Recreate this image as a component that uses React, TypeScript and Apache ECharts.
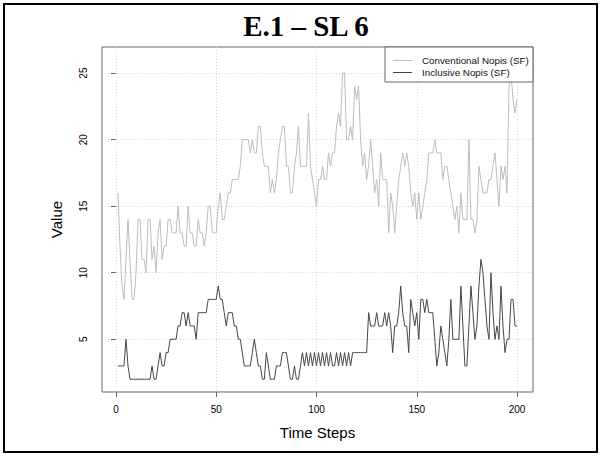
import React, { useEffect, useRef } from "react";
import * as echarts from "echarts";

const conventional = [
  16, 12, 9, 8, 11, 14, 11, 8, 8, 10,
  14, 14, 11, 11, 10, 14, 14, 11, 12, 10,
  13, 14, 11, 12, 12, 14, 14, 13, 13, 13,
  15, 13, 13, 12, 12, 15, 13, 13, 12, 12,
  14, 13, 13, 12, 13, 15, 15, 13, 13, 13,
  15, 16, 14, 14, 15, 16, 16, 17, 17, 17,
  17, 18, 20, 20, 20, 20, 19, 20, 19, 19,
  21, 21, 19, 18, 18, 18, 16, 17, 16, 17,
  19, 20, 21, 21, 18, 18, 16, 16, 18, 19,
  21, 18, 18, 18, 18, 22, 18, 17, 16, 15,
  17, 17, 18, 17, 17, 19, 18, 19, 19, 21,
  22, 21, 25, 25, 20, 20, 21, 20, 24, 23,
  24, 20, 18, 19, 17, 18, 20, 18, 16, 17,
  15, 19, 17, 17, 17, 13, 16, 15, 13, 15,
  17, 18, 19, 18, 19, 18, 16, 15, 16, 14,
  16, 14, 15, 16, 17, 19, 19, 19, 20, 19,
  19, 19, 17, 18, 18, 17, 16, 15, 14, 15,
  13, 16, 14, 14, 14, 20, 14, 14, 13, 14,
  18, 17, 16, 16, 16, 17, 17, 18, 19, 17,
  15, 18, 17, 18, 16, 24, 25, 23, 22, 23,
];

const inclusive = [
  3, 3, 3, 3, 5, 3, 2, 2, 2, 2,
  2, 2, 2, 2, 2, 2, 2, 3, 2, 2,
  3, 4, 3, 3, 4, 4, 5, 5, 5, 5,
  6, 6, 7, 7, 6, 7, 6, 6, 6, 5,
  7, 7, 7, 7, 7, 8, 8, 8, 8, 8,
  9, 8, 8, 7, 6, 7, 7, 7, 6, 6,
  5, 5, 4, 3, 3, 3, 3, 4, 5, 4,
  3, 3, 2, 2, 4, 3, 2, 2, 2, 3,
  3, 3, 4, 4, 4, 3, 2, 2, 3, 2,
  2, 3, 4, 3, 4, 3, 4, 3, 4, 3,
  4, 3, 4, 3, 4, 3, 4, 3, 3, 4,
  3, 4, 3, 4, 3, 4, 3, 4, 4, 4,
  4, 4, 4, 4, 4, 7, 6, 6, 6, 7,
  6, 6, 6, 7, 6, 7, 6, 4, 6, 6,
  7, 9, 7, 6, 6, 4, 8, 7, 6, 7,
  5, 8, 8, 7, 8, 7, 7, 7, 5, 3,
  4, 6, 5, 4, 3, 5, 8, 5, 5, 5,
  5, 9, 6, 3, 3, 6, 9, 7, 5, 6,
  9, 11, 10, 8, 6, 5, 10, 7, 5, 6,
  5, 9, 6, 4, 5, 5, 8, 8, 6, 6,
];

const xTicks = [0, 50, 100, 150, 200];
const yTicks = [5, 10, 15, 20, 25];
const seriesNames = ["Conventional Nopis (SF)", "Inclusive Nopis (SF)"];
const seriesColors = ["#c4baba", "#474747"];
const titleText = "E.1 – SL 6";
const xTitle = "Time Steps";
const yTitle = "Value";

export default function App() {
  const ref = useRef<HTMLDivElement>(null);

  useEffect(() => {
    document.body.style.margin = "0";
    const chart = echarts.init(ref.current!, null, { renderer: "svg" });
    const sans = "Liberation Sans, Arial, sans-serif";
    const toPairs = (arr: number[]) => arr.map((v, i) => [i + 1, v]);

    chart.setOption({
      animation: false,
      backgroundColor: "#ffffff",
      grid: {
        left: 102,
        right: 68,
        top: 47,
        bottom: 64,
        show: true,
        borderColor: "#666",
        borderWidth: 1,
        backgroundColor: "transparent",
      },
      xAxis: {
        type: "value",
        min: -6.96,
        max: 207.96,
        name: xTitle,
        nameLocation: "middle",
        nameGap: 33,
        nameTextStyle: { fontFamily: sans, fontSize: 15, color: "#000" },
        axisLine: { show: false },
        axisTick: {
          show: true,
          customValues: xTicks,
          length: 5,
          lineStyle: { color: "#666" },
        },
        axisLabel: {
          customValues: xTicks,
          fontFamily: sans,
          fontSize: 10,
          color: "#000",
          margin: 12,
        },
        splitLine: {
          show: true,
          lineStyle: { color: "#d6d6d6", type: [1, 2], width: 1 },
        },
      },
      yAxis: {
        type: "value",
        min: 1.04,
        max: 26.96,
        name: yTitle,
        nameLocation: "middle",
        nameGap: 38,
        nameTextStyle: { fontFamily: sans, fontSize: 15, color: "#000" },
        axisLine: { show: false },
        axisTick: {
          show: true,
          customValues: yTicks,
          length: 5,
          lineStyle: { color: "#666" },
        },
        axisLabel: {
          customValues: yTicks,
          fontFamily: sans,
          fontSize: 10,
          color: "#000",
          rotate: 90,
          margin: 14,
        },
        splitLine: {
          show: true,
          lineStyle: { color: "#d6d6d6", type: [1, 2], width: 1 },
        },
      },
      series: [
        {
          name: seriesNames[0],
          type: "line",
          data: toPairs(conventional),
          symbol: "none",
          lineStyle: { color: seriesColors[0], width: 1 },
          silent: true,
        },
        {
          name: seriesNames[1],
          type: "line",
          data: toPairs(inclusive),
          symbol: "none",
          lineStyle: { color: seriesColors[1], width: 1 },
          silent: true,
        },
      ],
      graphic: [
        {
          type: "rect",
          shape: { x: 4, y: 4, width: 593, height: 448 },
          style: { fill: "none", stroke: "#000", lineWidth: 2 },
          silent: true,
        },
        {
          type: "text",
          x: 306,
          y: 26,
          style: {
            text: titleText,
            font: "bold 29px 'Liberation Serif', 'Times New Roman', serif",
            fill: "#000",
            textAlign: "center",
            textVerticalAlign: "middle",
          },
        },
        {
          type: "rect",
          shape: { x: 385, y: 47, width: 148, height: 35 },
          style: { fill: "#fff", stroke: "#666", lineWidth: 1 },
          z: 10,
        },
        {
          type: "line",
          shape: { x1: 393, y1: 60.5, x2: 412, y2: 60.5 },
          style: { stroke: seriesColors[0], lineWidth: 1 },
          z: 11,
        },
        {
          type: "line",
          shape: { x1: 393, y1: 72.5, x2: 412, y2: 72.5 },
          style: { stroke: seriesColors[1], lineWidth: 1 },
          z: 11,
        },
        {
          type: "text",
          x: 422,
          y: 60.5,
          style: {
            text: seriesNames[0],
            font: "9.8px 'Liberation Sans', Arial, sans-serif",
            fill: "#111",
            textVerticalAlign: "middle",
          },
          z: 11,
        },
        {
          type: "text",
          x: 422,
          y: 72.5,
          style: {
            text: seriesNames[1],
            font: "9.8px 'Liberation Sans', Arial, sans-serif",
            fill: "#111",
            textVerticalAlign: "middle",
          },
          z: 11,
        },
      ],
    });

    return () => chart.dispose();
  }, []);

  return <div ref={ref} style={{ width: 601, height: 456 }} />;
}
